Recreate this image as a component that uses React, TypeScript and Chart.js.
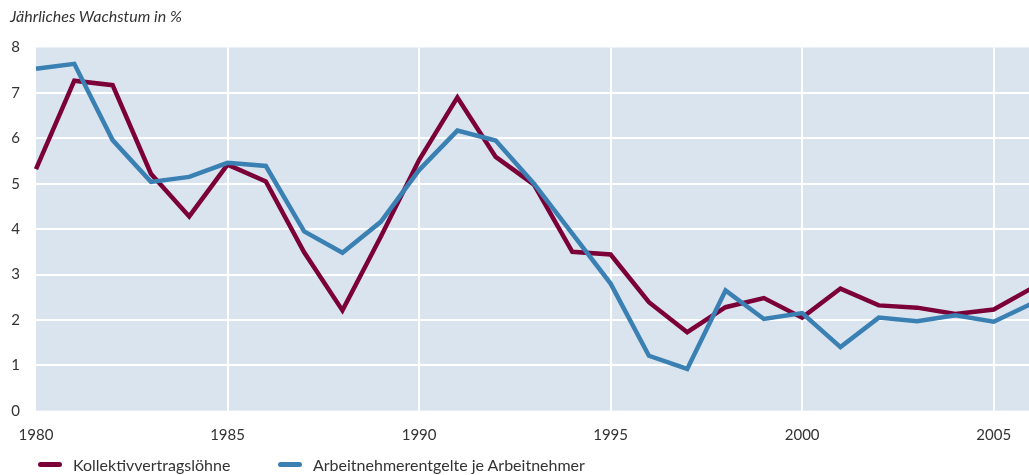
import React, { useEffect, useRef } from "react";
import { Chart, registerables } from "chart.js";

Chart.register(...registerables);

const years: string[] = [
  "1980", "1981", "1982", "1983", "1984", "1985", "1986", "1987", "1988", "1989",
  "1990", "1991", "1992", "1993", "1994", "1995", "1996", "1997", "1998", "1999",
  "2000", "2001", "2002", "2003", "2004", "2005", "2006",
];

const kollektivLoehne: number[] = [
  5.32, 7.27, 7.17, 5.22, 4.28, 5.42, 5.05, 3.49, 2.21, 3.83,
  5.52, 6.9, 5.59, 4.98, 3.5, 3.44, 2.39, 1.73, 2.28, 2.48,
  2.05, 2.69, 2.32, 2.27, 2.13, 2.23, 2.7,
];

const arbeitnehmerEntgelte: number[] = [
  7.53, 7.64, 5.96, 5.04, 5.15, 5.46, 5.39, 3.95, 3.48, 4.16,
  5.3, 6.17, 5.95, 5.0, 3.9, 2.8, 1.21, 0.92, 2.65, 2.02,
  2.15, 1.4, 2.05, 1.97, 2.1, 1.96, 2.36,
];

const yTicks: number[] = [0, 1, 2, 3, 4, 5, 6, 7, 8];

const titleText = "Jährliches Wachstum in %";
const seriesNames: string[] = ["Kollektivvertragslöhne", "Arbeitnehmerentgelte je Arbeitnehmer"];
const seriesColors: string[] = ["#7b0038", "#3a80b3"];

const FONT = "Lato, 'Open Sans', sans-serif";

const bgPlugin = {
  id: "plotBg",
  beforeDraw(chart: any) {
    const { ctx, chartArea } = chart;
    if (!chartArea) return;
    ctx.save();
    ctx.fillStyle = "#dae4ef";
    ctx.fillRect(chartArea.left, chartArea.top, chartArea.right - chartArea.left, chartArea.bottom - chartArea.top);
    ctx.restore();
  },
};

export default function App() {
  const canvasRef = useRef<HTMLCanvasElement | null>(null);

  useEffect(() => {
    document.body.style.margin = "0";
    const canvas = canvasRef.current;
    if (!canvas) return;
    const chart = new Chart(canvas, {
      type: "line",
      data: {
        labels: years,
        datasets: [
          {
            label: seriesNames[0],
            data: kollektivLoehne,
            borderColor: seriesColors[0],
            backgroundColor: seriesColors[0],
            borderWidth: 4.5,
            pointRadius: 0,
            tension: 0,
            order: 1,
            borderJoinStyle: "miter",
          },
          {
            label: seriesNames[1],
            data: arbeitnehmerEntgelte,
            borderColor: seriesColors[1],
            backgroundColor: seriesColors[1],
            borderWidth: 4.5,
            pointRadius: 0,
            tension: 0,
            order: 0,
            borderJoinStyle: "miter",
          },
        ],
      },
      options: {
        responsive: false,
        animation: false,
        maintainAspectRatio: false,
        layout: { padding: { top: 47.5, right: 0, bottom: 0, left: 0 } },
        plugins: {
          legend: { display: false },
          title: { display: false },
          tooltip: { enabled: false },
        },
        scales: {
          x: {
            type: "category",
            offset: false,
            border: { display: false },
            grid: {
              drawTicks: false,
              lineWidth: 2,
              color: (ctx: any) => {
                const i = ctx.index;
                if (i === 0) return "rgba(0,0,0,0)";
                return i % 5 === 0 ? "#ffffff" : "rgba(0,0,0,0)";
              },
            },
            ticks: {
              autoSkip: false,
              maxRotation: 0,
              padding: 15,
              color: "#333333",
              font: { family: FONT, size: 15 },
              callback: function (_v: any, i: number) {
                return i % 5 === 0 ? years[i] : "";
              },
            },
            afterFit(scale: any) {
              scale.height = 64.3;
            },
          },
          y: {
            type: "linear",
            min: 0,
            max: 8,
            border: { display: false },
            afterBuildTicks(scale: any) {
              scale.ticks = yTicks.map((v) => ({ value: v }));
            },
            grid: {
              drawTicks: false,
              lineWidth: 2,
              color: (ctx: any) => {
                const v = ctx.tick ? ctx.tick.value : 0;
                return v === 0 || v === 8 ? "rgba(0,0,0,0)" : "#ffffff";
              },
            },
            ticks: {
              padding: 16,
              color: "#333333",
              font: { family: FONT, size: 15 },
            },
            afterFit(scale: any) {
              scale.width = 36;
            },
          },
        },
      },
      plugins: [bgPlugin],
    });
    return () => chart.destroy();
  }, []);

  return (
    <div
      style={{
        position: "fixed",
        left: 0,
        top: 0,
        width: 1029,
        height: 475,
        overflow: "hidden",
        background: "#ffffff",
        fontFamily: FONT,
      }}
    >
      <canvas
        ref={canvasRef}
        width={1047}
        height={475}
        style={{ position: "absolute", left: 0, top: 0, width: 1047, height: 475 }}
      />
      <div
        style={{
          position: "absolute",
          left: 10,
          top: 6,
          fontSize: 16,
          fontStyle: "italic",
          color: "#333333",
          whiteSpace: "nowrap",
        }}
      >
        {titleText}
      </div>
      {seriesNames.map((name, i) => (
        <div
          key={name}
          style={{
            position: "absolute",
            left: i === 0 ? 38 : 278,
            top: 454,
            height: 20,
            display: "flex",
            alignItems: "center",
            fontSize: 16,
            color: "#333333",
            whiteSpace: "nowrap",
          }}
        >
          <span
            style={{
              display: "inline-block",
              width: 24,
              height: 5,
              borderRadius: 3,
              background: seriesColors[i],
              marginRight: 11,
            }}
          />
          <span>{name}</span>
        </div>
      ))}
    </div>
  );
}
